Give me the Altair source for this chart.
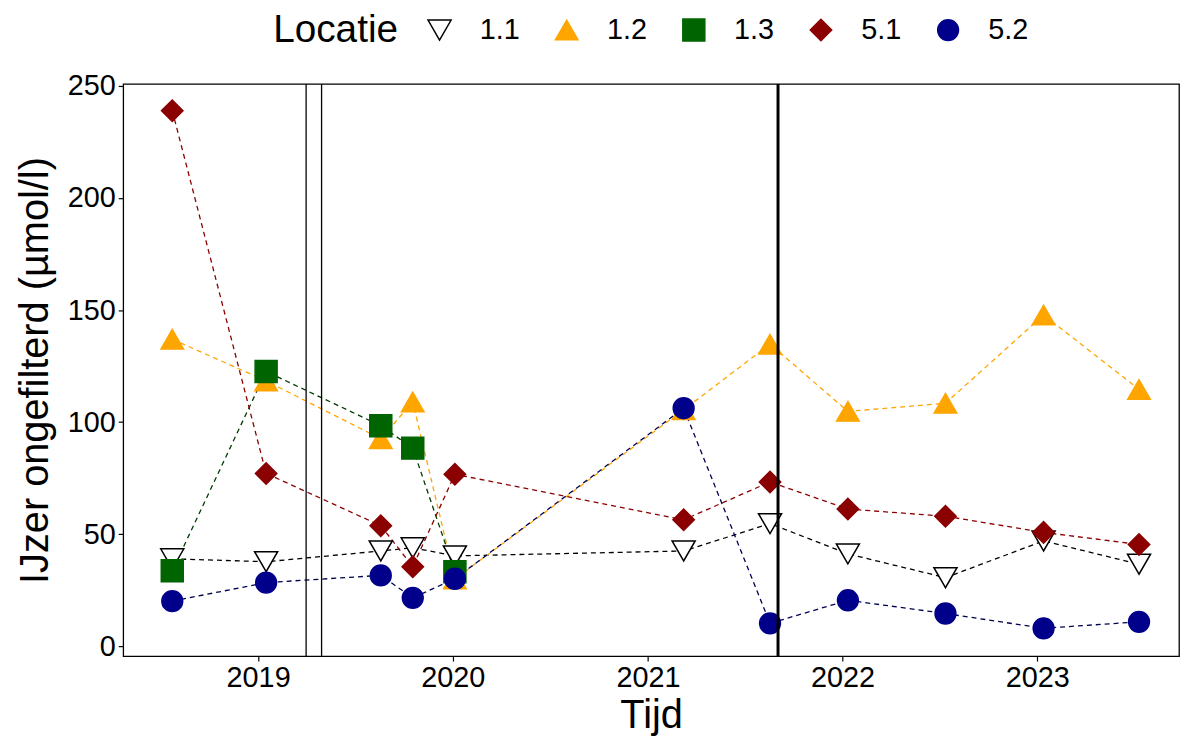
import altair as alt
import pandas as pd

# ---- data ----
dates = ["2018-07-24", "2019-01-16", "2019-08-19", "2019-10-18", "2020-01-05",
         "2021-03-09", "2021-08-18", "2022-01-11", "2022-07-13", "2023-01-13", "2023-07-11"]
locaties = ["1.1", "1.2", "1.3", "5.1", "5.2"]
loc_11 = [39, 37.7, 42.5, 43.9, 40.3, 42.5, 54.7, 41.2, 30.6, 47, 36.6]
loc_12 = [137, 118.4, 92.6, 109, 30, 105.5, 134.8, 104.8, 108.4, 147.8, 114.6]
loc_13 = [33.7, 122.6, 98.4, 88.4, 33.2]          # only the first five dates
loc_51 = [239, 77.1, 53.8, 35.5, 76.7, 56.4, 73.3, 61.2, 58, 50.8, 45.4]
loc_52 = [20.1, 28.4, 31.6, 21.6, 30.1, 106.2, 10.2, 20.5, 14.6, 8, 10.9]
vline_dates = ["2019-04-01", "2019-04-30", "2021-09-02"]
vline_widths = [1.3, 1.3, 3]
year_ticks = ["2019-01-01", "2020-01-01", "2021-01-01", "2022-01-01", "2023-01-01"]
x_domain = ["2018-04-23", "2023-09-24"]
y_ticks = [0, 50, 100, 150, 200, 250]

series = {"1.1": loc_11, "1.2": loc_12, "1.3": loc_13, "5.1": loc_51, "5.2": loc_52}
rows = []
for loc in locaties:
    for d, v in zip(dates, series[loc]):
        rows.append({"Tijd": d, "waarde": v, "Locatie": loc})
df = pd.DataFrame(rows)
vl = pd.DataFrame({"Tijd": vline_dates, "w": vline_widths})


def ms(s):
    return int(pd.Timestamp(s, tz="UTC").value // 10**6)


FONT = "Liberation Sans"
shape_range = ["triangle-down", "triangle-up", "square", "diamond", "circle"]
fill_range = ["white", "#FFA500", "#006400", "#8B0000", "#00008B"]
stroke_range = ["black", "#FFA500", "#006400", "#8B0000", "#00008B"]
line_range = ["black", "#FFA500", "#003a00", "#8B0000", "#000050"]
size_range = [540, 440, 340, 260, 230]

x_enc = alt.X("Tijd:T", title="Tijd",
              scale=alt.Scale(type="utc", domain=[ms(x_domain[0]), ms(x_domain[1])]),
              axis=alt.Axis(values=[ms(t) for t in year_ticks], format="%Y"))
y_enc = alt.Y("waarde:Q", title="IJzer ongefilterd (µmol/l)",
              scale=alt.Scale(domain=[-4.4, 250.9], nice=False, zero=False),
              axis=alt.Axis(values=y_ticks))

stroke_enc = alt.Stroke("Locatie:N", title="Locatie",
                        scale=alt.Scale(domain=locaties, range=stroke_range))

lines = alt.Chart(df).mark_line(strokeDash=[5, 4], strokeWidth=1.3).encode(
    x=x_enc, y=y_enc,
    color=alt.Color("Locatie:N", scale=alt.Scale(domain=locaties, range=line_range),
                    legend=None),
    detail="Locatie:N",
)

points = alt.Chart(df).mark_point(opacity=1, strokeWidth=1.5).encode(
    x=x_enc, y=y_enc,
    shape=alt.Shape("Locatie:N", title="Locatie",
                    scale=alt.Scale(domain=locaties, range=shape_range)),
    fill=alt.Fill("Locatie:N", title="Locatie",
                  scale=alt.Scale(domain=locaties, range=fill_range)),
    stroke=stroke_enc,
    size=alt.Size("Locatie:N", title="Locatie",
                  scale=alt.Scale(domain=locaties, range=size_range)),
)

rules = alt.Chart(vl).mark_rule(color="black").encode(
    x=alt.X("Tijd:T", scale=alt.Scale(type="utc")),
    strokeWidth=alt.StrokeWidth("w:Q", scale=None, legend=None),
)

chart = (
    alt.layer(lines, points, rules)
    .resolve_scale(color="independent")
    .properties(width=1063, height=576,
                padding={"left": 116, "top": 74, "right": 3, "bottom": 81},
                autosize=alt.AutoSizeParams(type="none"))
    .configure_view(stroke="black", strokeWidth=1.3)
    .configure_axis(
        grid=False, domain=False, tickColor="black", tickSize=5, tickWidth=1.2,
        labelFont=FONT, labelFontSize=29, labelColor="black", labelPadding=3,
        titleFont=FONT, titleFontSize=40, titleColor="black", titleFontWeight="normal",
    )
    .configure_axisY(titlePadding=12)
    .configure_axisX(titlePadding=3)
    .configure_legend(
        orient="none", legendX=151, legendY=-69, direction="horizontal",
        titleOrient="left", titleFont=FONT, titleFontSize=39, titleColor="black",
        titleFontWeight="normal", titlePadding=27, titleAnchor="middle",
        labelFont=FONT, labelFontSize=29, labelColor="black", labelOffset=26,
        columnPadding=32, symbolStrokeWidth=1.5,
    )
)

chart.save("out.html", embed_options={"renderer": "svg", "actions": False})
